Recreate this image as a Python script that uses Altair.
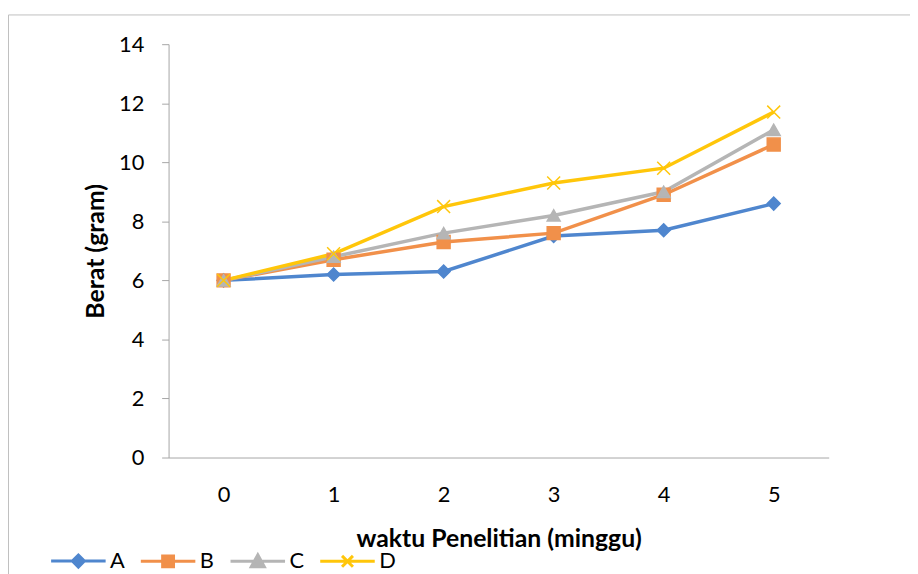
import altair as alt
import pandas as pd

weeks = [0, 1, 2, 3, 4, 5]
series_names = ["A", "B", "C", "D"]
val_A = [6.0, 6.2, 6.3, 7.5, 7.7, 8.6]
val_B = [6.0, 6.7, 7.3, 7.6, 8.9, 10.6]
val_C = [6.0, 6.8, 7.6, 8.2, 9.0, 11.1]
val_D = [6.0, 6.9, 8.5, 9.3, 9.8, 11.7]
y_ticks = [0, 2, 4, 6, 8, 10, 12, 14]

colors = ["#4F86CE", "#F1904A", "#B5B5B5", "#FFC60A"]
shapes = [
    "diamond",
    "square",
    "triangle-up",
    "M-1,-1L1,1M-1,1L1,-1",
]
legend_shapes = [
    "M-1,0L1,0M0,-0.22L0.22,0L0,0.22L-0.22,0Z",
    "M-1,0L1,0M-0.2,-0.2L0.2,-0.2L0.2,0.2L-0.2,0.2Z",
    "M-1,0L1,0M0,-0.24L0.24,0.2L-0.24,0.2Z",
    "M-1,0L1,0M-0.2,-0.2L0.2,0.2M-0.2,0.2L0.2,-0.2",
]

rows = []
for name, vals in zip(series_names, [val_A, val_B, val_C, val_D]):
    for w, v in zip(weeks, vals):
        rows.append({"week": w, "series": name, "value": v})
df = pd.DataFrame(rows)

FONT = "Lato"

x_enc = alt.X(
    "week:O",
    scale=alt.Scale(domain=weeks, type="point", padding=0.5),
    axis=alt.Axis(
        title="waktu Penelitian (minggu)",
        labelAngle=0,
        ticks=False,
        labelPadding=27,
        titlePadding=22,
    ),
)
y_enc = alt.Y(
    "value:Q",
    scale=alt.Scale(domain=[0, 14], nice=False, zero=True),
    axis=alt.Axis(
        title="Berat (gram)",
        values=y_ticks,
        grid=False,
        tickSize=7,
        labelPadding=18,
        titlePadding=10,
    ),
)

col_scale = alt.Scale(domain=series_names, range=colors)

lines = alt.Chart(df).mark_line(strokeWidth=3.5).encode(
    x=x_enc,
    y=y_enc,
    color=alt.Color("series:N", scale=col_scale, legend=None),
)

points = alt.Chart(df).mark_point(filled=True, size=170, strokeWidth=1.5, opacity=1).encode(
    x=x_enc,
    y=y_enc,
    fill=alt.Fill("series:N", scale=col_scale, legend=None),
    stroke=alt.Stroke("series:N", scale=col_scale, legend=None),
    shape=alt.Shape("series:N", scale=alt.Scale(domain=series_names, range=shapes), legend=None),
)

leg = alt.Legend(
    title=None,
    orient="none",
    legendX=-120,
    legendY=492,
    direction="horizontal",
    symbolSize=3025,
    symbolStrokeWidth=3,
    labelFontSize=22,
    labelFont=FONT,
    labelColor="#000000",
    labelOffset=3,
    columnPadding=9.5,
    padding=0,
)

legend_layer = alt.Chart(df).transform_filter("false").mark_point(
    filled=True, strokeWidth=3, opacity=1
).encode(
    x=x_enc,
    y=y_enc,
    fill=alt.Fill("series:N", scale=alt.Scale(domain=series_names, range=colors), legend=leg),
    stroke=alt.Stroke("series:N", scale=alt.Scale(domain=series_names, range=colors), legend=leg),
    shape=alt.Shape("series:N", scale=alt.Scale(domain=series_names, range=legend_shapes), legend=leg),
)

frame = alt.Chart(pd.DataFrame({"k": [0]})).mark_rect(
    fill="transparent", stroke="#BFBFBF", strokeWidth=1
).encode(
    x=alt.value(-161.5), x2=alt.value(900), y=alt.value(-29.5), y2=alt.value(700)
)

main = alt.layer(lines, points)

chart = (
    alt.layer(frame, main, legend_layer)
    .resolve_scale(color="independent", fill="independent", stroke="independent", shape="independent")
    .properties(
        width=666,
        height=417,
        autosize=alt.AutoSizeParams(type="none"),
        padding={"left": 162, "top": 34, "right": 82, "bottom": 115},
        background="white",
    )
    .configure_view(stroke=None)
    .configure_axis(
        labelFont=FONT,
        labelFontSize=22,
        labelColor="#000000",
        titleFont=FONT,
        titleFontSize=25,
        titleFontWeight="bold",
        titleColor="#000000",
        domainColor="#A6A6A6",
        tickColor="#A6A6A6",
        domainWidth=1,
    )
)

chart.save("out.html", embed_options={"renderer": "svg", "actions": False})
